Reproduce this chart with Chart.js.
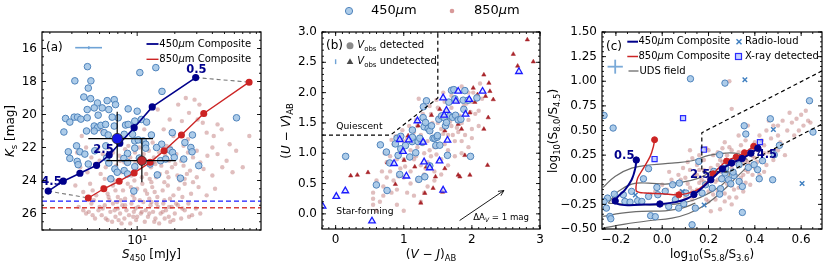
<!DOCTYPE html>
<html><head><meta charset="utf-8">
<script src="https://cdn.jsdelivr.net/npm/chart.js@4.4.1/dist/chart.umd.min.js"></script>
<style>
html,body{margin:0;padding:0;background:#fff;}
#wrap{position:relative;width:830px;height:262px;overflow:hidden;background:#fff;}
#wrap canvas{position:absolute;left:0;top:0;}
</style></head><body>
<div id="wrap">
<canvas id="ca" width="830" height="262"></canvas>
<canvas id="cb" width="830" height="262"></canvas>
<canvas id="cc" width="830" height="262"></canvas>
</div>
<script>
// ================= DATA =================
// Panel (a): S450 [mJy] vs Ks [mag]
const aBlue = [[4.0,17.1],[10.5,17.46],[14.1,17.16],[3.17,17.96],[4.26,17.96],[4.06,18.4],[15.8,18.6],[3.74,18.94],[4.24,19.04],[6.55,19.1],[5.75,19.16],[4.81,19.3],[6.71,19.4],[3.98,19.7],[4.53,19.6],[5.25,19.6],[5.93,19.7],[8.47,19.66],[10,19.8],[2.67,20.24],[3.13,20.16],[3.33,20.16],[3.54,20.28],[3.98,20.2],[4.87,20.04],[7.05,20.2],[6.31,20.16],[2.89,20.46],[4.53,20.7],[4.81,20.8],[5.12,20.66],[5.58,20.6],[6.55,20.7],[8.07,20.64],[8.47,20.6],[9.57,20.4],[10.8,20.3],[11.9,20.46],[2.59,21.06],[3.93,21.0],[4.53,21.0],[5.44,21.1],[5.86,21.24],[7.87,21.2],[9.18,21.2],[9.57,21.6],[10.2,21.54],[11.2,21.6],[13.0,21.24],[19.1,21.1],[27.7,21.24],[62.4,20.2],[11.7,21.8],[15.7,21.8],[3.27,21.9],[2.81,22.26],[3.48,22.26],[3.81,22.4],[4.58,22.2],[5.61,21.9],[8.37,22.36],[9.57,22.04],[11.7,22.04],[14.3,22.0],[18.3,22.16],[19.2,22.3],[24.1,21.7],[26.9,22.0],[27.5,22.26],[3.31,22.84],[3.37,23.04],[4.06,23.0],[2.89,22.66],[5.69,22.64],[5.93,22.94],[7.82,22.66],[8.37,22.9],[9.57,23.16],[10.4,22.64],[12.7,23.0],[15.4,22.8],[16.9,22.7],[19.8,22.6],[23.6,22.7],[31.1,23.1],[6.63,23.3],[6.92,23.5],[7.87,23.4],[8.37,23.6],[6.15,23.9],[14.5,23.66],[22.2,23.86],[9.4,24.64]];
const aPink = [[14.6,19.7],[21.3,19.4],[24.5,19.0],[28.8,19.1],[31.5,19.4],[26,19.9],[33.5,20.5],[44,20.6],[47.5,20.9],[30.5,20.3],[36,21.1],[41,21.3],[79,21.3],[18.2,20.3],[22.8,20.4],[16.3,20.9],[12.1,20.5],[11.4,20.9],[9.1,21.2],[7.6,21.4],[5.2,21.0],[4.4,20.9],[3.6,21.3],[25.5,21.5],[19.5,21.3],
[3.3,22.3],[3.9,22.0],[4.3,22.6],[4.8,22.1],[5.3,22.4],[5.9,22.0],[6.4,22.3],[7.2,22.5],[8.0,22.1],[8.8,22.6],[9.6,22.3],[10.4,22.0],[11.3,22.4],[12.4,22.2],[13.6,22.6],[15.0,22.3],[16.8,22.5],[18.5,22.0],[20.6,22.4],[22.5,22.8],[25.5,22.3],[28,22.6],[32,22.9],[36.5,22.5],[44,22.4],[52,22.8],[62,22.2],[70,23.2],
[3.5,23.2],[4.0,23.5],[4.6,23.0],[5.1,23.6],[5.6,23.2],[6.2,23.8],[6.8,23.1],[7.5,23.5],[8.3,23.0],[9.0,23.7],[9.9,23.3],[10.8,23.0],[11.8,23.6],[12.9,23.2],[14.2,23.8],[15.6,23.1],[17.3,23.5],[19.0,23.2],[21.0,23.7],[23.5,23.1],[26.5,23.4],[30,23.8],[34,23.3],[40,23.7],[48,23.2],[58,23.5],
[5.0,22.8],[7.9,22.9],[11.0,22.7],[14.0,23.0],[18.0,22.8],[24.0,23.9],[6.5,24.0],[9.5,24.0],[13.0,24.1],
[3.2,24.3],[3.7,24.7],[4.2,24.2],[4.7,24.9],[5.3,24.4],[5.8,24.8],[6.4,24.3],[7.0,25.0],[7.7,24.6],[8.4,24.2],[9.2,24.9],[10.0,24.5],[11.0,24.2],[12.0,24.8],[13.2,24.4],[14.5,25.0],[16.0,24.6],[17.6,24.3],[19.5,24.9],[21.5,24.5],[24,24.2],[27,24.8],[31,24.4],[36,24.9],[42,24.5],[4.5,25.2],[6.0,25.2],[8.0,25.1],[10.5,25.2],[13.8,24.7],[18.3,25.1],[23,25.0],
[3.4,25.6],[3.9,26.0],[4.3,25.4],[4.6,26.3],[4.9,25.8],[5.2,26.1],[5.5,25.5],[5.8,26.4],[6.1,25.9],[6.4,25.4],[6.7,26.2],[7.0,25.7],[7.3,26.0],[7.6,25.5],[7.9,26.3],[8.2,25.8],[8.6,26.1],[9.0,25.4],[9.4,25.9],[9.8,26.4],[10.2,25.6],[10.7,26.0],[11.2,25.3],[11.7,25.8],[12.2,26.2],[12.8,25.5],[13.4,25.9],[14.0,26.3],[14.7,25.6],[15.4,26.0],[16.2,25.4],[17.0,25.8],[17.9,26.2],[18.9,25.6],[20.0,26.0],[21.2,25.5],[22.5,26.3],[24.0,25.8],[25.7,25.4],[27.5,26.1],[29.5,25.7],[32,26.0],[5.0,25.6],[6.9,25.3],[8.8,26.6],[11.5,26.5],[15.0,26.6],[19.5,26.4],[7.5,26.6],[9.7,25.7],[13.0,25.3],[16.6,26.3],[4.1,25.9],[6.3,26.5],[10.0,26.2],
[4.4,24.6],[5.5,23.9],[6.7,24.6],[7.3,22.8],[8.9,24.4],[9.7,22.9],[10.9,23.8],[11.6,24.6],[12.6,23.9],[13.5,22.9],[15.2,23.6],[16.5,24.1],[17.8,23.8],[20.2,23.0],[22,24.0],[25,23.6],[28,24.1],[5.9,25.0],[7.4,25.2],[9.5,25.1],[12.5,25.1],[16.5,25.2],[3.7,25.8],[4.4,26.1],[5.3,25.7],[6.6,25.8],[8.0,25.5],[9.3,26.2],[10.9,25.9],[12.5,26.0],[14.3,25.4],[16.0,25.9],[18.0,25.6],[20.5,25.4],[23,25.7],[5.6,26.3],[7.1,26.4],[13.7,26.5],[18.4,26.5],[26,26.2],[8.5,21.9],[13.3,21.7],[17.2,21.9],[23.5,21.9],[30,22.2],[40,22.0],[55,21.8],[35,20.0]];
const aComp450 = [[1.94,24.64],[2.56,24.04],[3.48,23.56],[4.73,23.08],[5.97,22.46],[7.26,21.74],[9.46,20.8],[13.2,19.54],[29.4,17.76]];
const aComp850 = [[4.06,25.06],[5.41,24.5],[7.18,24.04],[9.46,23.54],[12.7,22.9],[16.4,22.2],[22.6,21.24],[34.1,19.94],[78.7,18.04]];
const aMean450 = [6.92, 21.46, 4.06, 13.4, 19.84, 23.1];   // x, y, xlo, xhi, ylo, yhi
const aMean850 = [10.9, 22.8, 5.67, 20.4, 21.46, 24.1];
const aLimits = [25.25, 25.65];                            // 450, 850 Ks limits
const aTypErr = [4.1, 15.95, 3.19, 5.23];
const aZText = ['0.5', '2.5', '4.5'];
const aZAt = [[29.8,17.28],[5.37,22.13],[2.06,24.09]];
const aXRange = [1.73, 98], aYRange = [15, 27];
const aYTicks = [16,18,20,22,24,26];
const aXTicks = [10];

// Panel (b): (V-J) vs (U-V)
const bBlueCirc = [[0.147,0.948],[0.657,1.138],[0.598,0.477],[0.755,0.385],[0.745,1.019],[0.794,0.84],[0.902,1.247],[0.877,1.154],[0.956,1.279],[0.956,1.073],[0.917,0.965],[1.025,1.127],[0.941,0.65],[1.088,0.938],[1.123,1.192],[1.127,1.263],[1.127,1.382],[1.176,1.008],[1.211,1.192],[1.221,0.569],[1.27,1.182],[1.284,1.588],[1.299,1.436],[1.319,1.507],[1.333,1.865],[1.358,1.409],[1.382,1.371],[1.407,1.453],[1.431,1.247],[1.456,1.247],[1.49,1.263],[1.471,1.127],[1.515,1.561],[1.554,1.615],[1.613,1.453],[1.593,1.588],[1.627,1.507],[1.662,1.843],[1.676,1.615],[1.716,1.593],[1.701,2.038],[1.735,2.049],[1.75,1.897],[1.76,1.626],[1.799,1.55],[1.838,1.561],[1.873,1.875],[1.882,1.724],[1.897,2.033],[1.946,1.875],[1.98,0.948],[2.074,1.913],[1.529,1.133],[1.382,0.791],[1.309,0.612],[1.289,1.767],[1.495,1.29],[1.642,0.965],[1.235,1.247]];
const bBlueTri = [[-0.191,0.125],[0.01,0.287],[0.142,0.379],[0.534,-0.119],[0.858,0.829],[1.039,0.623],[0.99,1.03],[0.941,1.225],[1.201,1.534],[1.284,1.182],[1.299,0.856],[1.382,0.759],[1.525,0.873],[1.578,1.913],[1.578,0.39],[1.627,1.707],[1.765,1.859],[1.799,2.022],[1.907,1.642],[1.961,1.886],[2.157,2.022],[2.691,2.347],[1.074,1.22],[1.642,1.214],[1.593,1.626]];
const bRedTri = [[2.814,2.873],[2.608,2.634],[2.672,2.439],[2.902,2.51],[2.176,2.293],[2.25,2.157],[2.265,2.022],[2.201,1.94],[2.314,1.886],[2.24,1.588],[2.176,1.398],[2.02,2.076],[2.083,1.967],[2.044,1.843],[1.971,1.669],[1.848,1.398],[1.799,1.48],[1.603,1.371],[1.529,1.724],[1.407,1.626],[1.211,1.453],[1.064,1.29],[1.005,0.883],[1.162,0.775],[1.333,0.775],[1.466,0.612],[1.799,0.64],[1.824,0.612],[1.971,0.64],[2.23,0.802],[1.431,0.423],[1.309,0.341],[1.25,0.179],[0.877,0.488],[0.475,0.683],[0.319,0.64],[0.221,0.629],[0.76,0.846],[1.603,0.748],[1.897,0.965],[1.57,0.36]];
const bPink = [[0.55,0.15],[0.6,0.05],[0.55,0.25],[0.7,0.45],[0.75,0.6],[0.8,0.7],[0.85,0.55],[0.9,0.4],[0.95,0.75],[1.0,0.9],[1.0,0.6],[1.05,0.35],[1.1,0.7],[1.1,1.05],[1.15,0.9],[1.2,0.55],[1.2,1.1],[1.25,0.8],[1.25,1.3],[1.3,1.0],[1.3,0.65],[1.35,1.2],[1.35,0.45],[1.4,0.95],[1.4,1.35],[1.45,1.1],[1.45,0.7],[1.5,1.25],[1.5,1.5],[1.55,0.9],[1.55,1.4],[1.6,1.15],[1.6,1.6],[1.65,1.3],[1.65,0.8],[1.7,1.45],[1.7,1.75],[1.75,1.2],[1.75,1.6],[1.8,1.35],[1.8,1.85],[1.85,1.5],[1.85,1.0],[1.9,1.7],[1.9,1.3],[1.95,1.55],[2.0,1.85],[2.0,1.25],[2.05,1.65],[2.1,1.45],[2.15,1.9],[1.0,1.2],[0.95,1.0],[0.9,0.9],[0.85,1.15],[0.8,0.95],[0.75,0.85],[0.7,0.3],[0.65,0.2],[0.6,0.55],[1.05,1.25],[1.15,1.35],[1.2,1.45],[1.3,1.55],[1.4,1.65],[1.5,1.75],[1.6,1.85],[1.7,1.95],[1.75,2.05],[1.85,2.1],[1.95,2.0],[1.1,0.5],[1.15,0.3],[1.25,0.2],[1.35,0.85],[1.45,0.55],[1.55,0.65],[1.65,1.05],[1.75,0.95],[1.85,1.2],[1.95,1.1],[2.0,1.4],[2.1,1.7],[0.9,0.15],[1.0,0.05],[1.3,0.35],[0.55,0.35],[0.72,1.0],[0.82,1.22],[0.88,1.28],[0.98,1.38],[1.08,1.45],[1.18,1.55],[1.28,1.65],[1.38,1.78],[1.48,1.88],[1.42,1.5],[1.52,1.58],[1.62,1.7],[1.72,1.3],[1.82,1.62],[1.92,1.82],[2.02,2.0],[2.12,2.15],[1.58,2.0],[1.22,1.9],[1.12,1.18],[1.02,0.78],[0.92,0.62],[0.82,0.35],[0.68,0.7],[1.32,0.75],[1.48,0.98],[1.68,1.52],[1.78,1.42],[1.88,1.78],[1.98,1.68],[2.08,1.95],[1.38,1.05],[1.18,0.95],[1.28,1.15],[1.58,1.32],[1.62,1.48],[1.72,1.62]];
const bQuiescentBox = [[-0.2,1.3],[0.806,1.3],[1.5,1.91],[1.5,3.0]];
const bArrow = [[1.82,-0.11],[2.47,0.385]];
const bTypErr = [0.0, 2.51, 0.04];
const bXRange = [-0.2, 3], bYRange = [-0.25, 3.0];
const bXTicks = [0,1,2,3];
const bYTicks = [0,0.5,1,1.5,2,2.5,3];

// Panel (c): log(S5.8/S3.6) vs log(S8.0/S4.5)
const cBlue = [[0.122,1.025],[0.271,0.981],[-0.251,0.653],[-0.212,0.525],[0.467,0.619],[0.354,0.548],[0.636,0.802],[0.651,0.484],[0.506,0.349],[0.361,0.464],[0.158,0.186],[0.248,0.254],[0.274,0.118],[0.332,0.152],[-0.059,0.112],[-0.081,0.01],[-0.023,-0.078],[0.045,-0.051],[0.074,-0.034],[0.103,-0.135],[0.057,-0.203],[0.028,-0.271],[-0.132,-0.118],[-0.106,-0.213],[-0.088,-0.22],[-0.168,-0.152],[-0.207,-0.146],[-0.236,-0.186],[-0.251,-0.22],[-0.226,-0.372],[-0.222,-0.396],[-0.241,-0.288],[-0.161,-0.22],[-0.139,-0.227],[-0.059,-0.169],[-0.019,-0.152],[0.013,-0.118],[0.071,-0.288],[0.093,-0.244],[0.129,-0.457],[0.187,-0.051],[0.216,-0.085],[0.252,-0.091],[0.248,-0.146],[0.286,0.0],[0.296,-0.041],[0.31,0.041],[0.332,-0.017],[0.346,-0.068],[0.306,0.078],[0.346,-0.332],[0.372,0.125],[0.397,0.152],[0.412,0.102],[0.419,0.01],[0.477,0.0],[0.484,0.254],[0.433,0.193],[0.223,0.085],[0.257,0.01],[0.271,0.068],[0.172,-0.135],[0.143,-0.288],[-0.05,-0.365],[-0.03,-0.375]];
const cPink = [[0.05,-0.05],[0.08,-0.12],[0.1,0.02],[0.12,-0.08],[0.13,-0.2],[0.15,0.05],[0.16,-0.03],[0.17,-0.15],[0.18,0.1],[0.19,-0.06],[0.2,0.02],[0.2,-0.22],[0.21,0.12],[0.22,-0.1],[0.23,0.06],[0.23,-0.02],[0.24,0.15],[0.25,-0.08],[0.25,0.2],[0.26,0.03],[0.27,-0.14],[0.27,0.1],[0.28,0.25],[0.29,0.0],[0.29,0.17],[0.3,-0.06],[0.3,0.3],[0.31,0.08],[0.32,0.22],[0.32,-0.18],[0.33,0.14],[0.34,0.35],[0.34,0.02],[0.35,0.25],[0.36,0.1],[0.36,0.4],[0.37,0.18],[0.38,0.3],[0.38,-0.05],[0.39,0.24],[0.4,0.38],[0.4,0.12],[0.41,0.3],[0.42,0.45],[0.43,0.2],[0.44,0.35],[0.45,0.5],[0.46,0.28],[0.47,0.42],[0.48,0.55],[0.5,0.45],[0.52,0.6],[0.54,0.5],[0.56,0.58],[0.58,0.62],[0.6,0.66],[0.62,0.7],[0.63,0.6],[0.55,0.68],[0.5,0.3],[0.45,0.15],[0.42,0.05],[0.35,-0.12],[0.3,-0.25],[0.25,-0.3],[0.22,0.25],[0.2,0.3],[0.18,0.2],[0.15,0.15],[0.12,0.1],[0.1,-0.18],[0.07,0.05],[0.05,-0.22],[0.02,-0.1],[0.0,-0.05],[-0.03,-0.12],[-0.05,-0.15],[0.03,0.08],[0.14,-0.28],[0.21,-0.32],[0.26,0.32],[0.33,0.45],[0.37,0.55],[0.29,1.0],[0.3,0.72],[0.27,0.38],[0.24,0.28],[0.19,0.32],[0.16,0.25],[0.13,0.22],[0.11,0.18],[0.09,0.12],[0.31,-0.1],[0.34,-0.02],[0.39,0.05],[0.44,0.08],[0.48,0.2],[0.51,0.38],[0.53,0.25],[0.57,0.45],[0.36,0.2],[0.38,0.15],[0.4,0.22],[0.42,0.32],[0.43,0.4],[0.26,0.12],[0.28,0.08],[0.24,-0.12],[0.22,-0.15],[0.19,-0.2],[0.17,0.0],[0.14,0.05],[0.12,0.3],[0.06,-0.15],[0.04,0.0],[0.29,-0.18],[0.33,-0.08],[0.35,0.05],[0.46,0.6],[0.5,0.55],[0.59,0.5],[0.61,0.55],[0.64,0.58],
[0.15,-0.1],[0.18,-0.02],[0.21,0.05],[0.24,0.0],[0.26,0.18],[0.28,-0.04],[0.3,0.12],[0.32,0.04],[0.33,0.28],[0.35,0.16],[0.37,0.08],[0.39,0.33],[0.41,0.18],[0.44,0.27],[0.23,-0.2],[0.27,-0.22],[0.2,-0.12],[0.16,0.1],[0.11,-0.04],[0.08,0.0],[0.13,-0.12],[0.36,-0.03],[0.31,0.18],[0.29,0.33],[0.25,0.08]];
const cXray = [[0.09,0.626],[0.18,0.305],[-0.033,0.21],[0.422,0.382]];
const cRadio = [[0.357,1.015],[0.48,0.51],[0.604,-0.037],[0.087,-0.12],[0.181,-0.256],[-0.116,-0.155]];
const cPath450 = [[-0.112,0.2],[-0.116,0.118],[-0.132,0.0],[-0.161,-0.102],[-0.19,-0.169],[-0.203,-0.215],[-0.19,-0.247],[-0.146,-0.258],[-0.074,-0.252],[-0.01,-0.246],[0.057,-0.227],[0.107,-0.193],[0.137,-0.15],[0.175,-0.075],[0.21,0.0],[0.26,0.11],[0.3,0.17],[0.345,0.215],[0.383,0.27],[0.413,0.32]];
const cDots450 = [[-0.112,0.2],[-0.203,-0.215],[-0.01,-0.246],[0.137,-0.15],[0.21,0.0],[0.26,0.11],[0.3,0.17],[0.345,0.215],[0.383,0.27],[0.413,0.32]];
const cPath850 = [[-0.033,0.406],[-0.038,0.338],[-0.052,0.237],[-0.081,0.118],[-0.106,0.017],[-0.113,-0.068],[-0.11,-0.118],[-0.074,-0.135],[-0.001,-0.142],[0.072,-0.153],[0.122,-0.129],[0.158,-0.095],[0.2,-0.01],[0.22,0.06],[0.278,0.19],[0.319,0.23],[0.355,0.275],[0.395,0.34]];
const cDots850 = [[-0.033,0.406],[0.072,-0.153],[0.22,0.06],[0.278,0.19],[0.319,0.23],[0.355,0.275],[0.395,0.34]];
const cWedge = [[0.69,1.105],[0.171,0.477],[0.171,0.08],[0.29,0.08],[0.69,0.565]];
const cUDS1 = [[-0.255,-0.078],[-0.204,0.034],[-0.132,0.118],[-0.045,0.152],[0.042,0.169],[0.129,0.193],[0.201,0.247],[0.274,0.271],[0.332,0.261],[0.368,0.203]];
const cUDS2 = [[-0.233,-0.237],[-0.19,-0.118],[-0.132,-0.044],[-0.059,-0.034],[0.013,-0.044],[0.086,-0.024],[0.158,0.017],[0.216,0.085],[0.259,0.118],[0.29,0.06],[0.259,-0.05],[0.158,-0.186],[0.086,-0.237],[0.013,-0.254],[-0.074,-0.254],[-0.161,-0.247],[-0.233,-0.237]];
const cUDS3 = [[-0.255,-0.491],[-0.161,-0.45],[-0.059,-0.416],[0.042,-0.389],[0.114,-0.342],[0.187,-0.254],[0.259,-0.118],[0.317,0.017],[0.361,0.118]];
const cUDS4 = [[-0.255,-0.372],[-0.175,-0.338],[-0.088,-0.321],[0.013,-0.315],[0.086,-0.288],[0.143,-0.237]];
const cZText = ['0.5','2.5','4.5'];
const cZAt = [[-0.164,0.243],[0.164,0.052],[0.452,0.254]];
const cTypErr = [-0.203, 1.148, 0.033, 0.071];
const cXRange = [-0.26, 0.69], cYRange = [-0.5, 1.5];
const cXTicks = [-0.2,0,0.2,0.4,0.6];
const cYTicks = [-0.5,-0.25,0,0.25,0.5,0.75,1,1.25,1.5];

// ================= STYLE / HELPERS =================
const FONT = "'DejaVu Sans', sans-serif";
Chart.defaults.font.family = FONT;
Chart.defaults.color = '#000';
const BLUE_FILL = 'rgba(164,198,231,0.9)', BLUE_EDGE = '#4f83bb';
const PINK = 'rgba(190,120,120,0.48)';
const NAVY = '#00008b', RED = '#cc2424';
const P = arr => arr.map(([x, y]) => ({x, y}));
const minus = s => s.replace('-', '\u2212');

function rich(ctx, segs, x, y, o = {}) {
  const size = o.size || 12;
  const parts = segs.map(([t, st]) => {
    const sub = st.includes('s'), sup = st.includes('p');
    const fs = (sub || sup) ? size * 0.7 : size;
    const font = (st.includes('b') ? 'bold ' : '') + (st.includes('i') ? 'italic ' : '') + fs + 'px ' + FONT;
    ctx.font = font;
    return {t, font, w: ctx.measureText(t).width, dy: sub ? size * 0.3 : (sup ? -size * 0.35 : 0)};
  });
  const total = parts.reduce((a, p) => a + p.w, 0);
  ctx.save();
  ctx.translate(x, y);
  if (o.rotate) ctx.rotate(o.rotate);
  let cx = o.align === 'left' ? 0 : (o.align === 'right' ? -total : -total / 2);
  ctx.fillStyle = o.color || '#000';
  ctx.textBaseline = 'middle';
  ctx.textAlign = 'left';
  for (const p of parts) { ctx.font = p.font; ctx.fillText(p.t, cx, p.dy); cx += p.w; }
  ctx.restore();
}
function seg(ctx, x1, y1, x2, y2) { ctx.beginPath(); ctx.moveTo(x1, y1); ctx.lineTo(x2, y2); ctx.stroke(); }

function range(a, b, step) { const r = []; for (let v = a; v <= b + 1e-9; v += step) r.push(+v.toFixed(4)); return r; }

function framePlugin(xMaj, xMin, yMaj, yMin) {
  return {
    id: 'frame',
    afterDraw(chart) {
      const {ctx, chartArea: a, scales: {x, y}} = chart;
      ctx.save();
      ctx.strokeStyle = '#000';
      ctx.lineWidth = 0.9;
      const tx = (vals, len) => vals.forEach(v => {
        const p = x.getPixelForValue(v);
        if (p < a.left - 0.5 || p > a.right + 0.5) return;
        seg(ctx, p, a.bottom, p, a.bottom - len); seg(ctx, p, a.top, p, a.top + len);
      });
      const ty = (vals, len) => vals.forEach(v => {
        const p = y.getPixelForValue(v);
        if (p < a.top - 0.5 || p > a.bottom + 0.5) return;
        seg(ctx, a.left, p, a.left + len, p); seg(ctx, a.right, p, a.right - len, p);
      });
      tx(xMaj, 4); tx(xMin, 2); ty(yMaj, 4); ty(yMin, 2);
      ctx.lineWidth = 1.2;
      ctx.strokeRect(a.left, a.top, a.right - a.left, a.bottom - a.top);
      ctx.restore();
    }
  };
}

function axis(rng, ticks, fmt, extra, isX, fitSize) {
  return Object.assign({
    type: 'linear', min: rng[0], max: rng[1], bounds: 'data',
    grid: {display: false, drawTicks: false}, border: {display: false},
    ticks: {color: '#000', font: {family: FONT, size: 12}, padding: isX ? 4 : 5, autoSkip: false, maxRotation: 0, minRotation: 0, callback: v => fmt(v)},
    afterBuildTicks: s => { s.ticks = ticks.map(v => ({value: v})); },
    afterFit: s => {
      if (isX) s.height = fitSize; else s.width = fitSize;
      s.paddingLeft = 0; s.paddingRight = 0; s.paddingTop = 0; s.paddingBottom = 0;
    }
  }, extra || {});
}

function makeChart(id, pad, xAx, yAx, datasets, plugins) {
  return new Chart(document.getElementById(id), {
    type: 'scatter',
    data: {datasets},
    options: {
      responsive: false, animation: false, events: [],
      layout: {padding: pad},
      plugins: {legend: {display: false}, tooltip: {enabled: false}},
      scales: {x: xAx, y: yAx}
    },
    plugins
  });
}

const blueScatter = (data, order, r) => ({data: P(data), pointRadius: r || 3.3, pointBackgroundColor: BLUE_FILL, pointBorderColor: BLUE_EDGE, pointBorderWidth: 1, order});
const pinkScatter = (data, order) => ({data: P(data), pointRadius: 2.2, pointBackgroundColor: PINK, pointBorderWidth: 0, pointBorderColor: 'rgba(0,0,0,0)', order});
const lineDS = (data, color, width, dash, order, extra) => Object.assign({data: P(data), showLine: true, borderColor: color, borderWidth: width, borderDash: dash || [], pointRadius: 0, order}, extra || {});

// ================= PANEL A =================
const aLogMinor = [2,3,4,5,6,7,8,9,20,30,40,50,60,70,80,90];
makeChart('ca', {left: 0, right: 569, top: 32, bottom: 0},
  axis(aXRange, aXTicks, v => '10\u00b9', {type: 'logarithmic'}, true, 32),
  axis(aYRange, aYTicks, v => String(v), {reverse: true}, false, 42),
  [
    pinkScatter(aPink, 20),
    blueScatter(aBlue, 19),
    lineDS([[aXRange[0], aLimits[0]], [aXRange[1], aLimits[0]]], '#1a1aff', 1.3, [5, 3], 18),
    lineDS([[aXRange[0], aLimits[1]], [aXRange[1], aLimits[1]]], '#d9403a', 1.3, [5, 3], 18),
    lineDS([aComp450[aComp450.length - 1], aComp850[aComp850.length - 1]], '#777', 1.1, [4, 3], 17),
    lineDS([aComp450[0], aComp850[0]], '#777', 1.1, [4, 3], 17),
    lineDS(aComp850, RED, 1.4, [], 16, {pointRadius: 2.8, pointBackgroundColor: RED, pointBorderColor: RED}),
    lineDS(aComp450, NAVY, 1.6, [], 15, {pointRadius: 2.8, pointBackgroundColor: NAVY, pointBorderColor: NAVY}),
  ],
  [framePlugin(aXTicks, aLogMinor, aYTicks, range(15, 27, 0.5)), {
    id: 'annA',
    afterDatasetsDraw(chart) {
      const {ctx, scales: {x, y}} = chart;
      ctx.save();
      const mean = (m, col, r) => {
        const [cx, cy, xlo, xhi, ylo, yhi] = m;
        ctx.strokeStyle = '#000'; ctx.lineWidth = 1.2;
        seg(ctx, x.getPixelForValue(xlo), y.getPixelForValue(cy), x.getPixelForValue(xhi), y.getPixelForValue(cy));
        seg(ctx, x.getPixelForValue(cx), y.getPixelForValue(ylo), x.getPixelForValue(cx), y.getPixelForValue(yhi));
        ctx.beginPath(); ctx.arc(x.getPixelForValue(cx), y.getPixelForValue(cy), r, 0, Math.PI * 2);
        ctx.fillStyle = col; ctx.fill(); ctx.lineWidth = 0.8; ctx.strokeStyle = '#222'; ctx.stroke();
      };
      mean(aMean850, '#c0282d', 4.6);
      mean(aMean450, '#1414e6', 5.2);
      // typical error
      ctx.strokeStyle = '#6fa3d6'; ctx.lineWidth = 1.6;
      const ty = y.getPixelForValue(aTypErr[1]);
      seg(ctx, x.getPixelForValue(aTypErr[2]), ty, x.getPixelForValue(aTypErr[3]), ty);
      seg(ctx, x.getPixelForValue(aTypErr[0]), ty - 1.5, x.getPixelForValue(aTypErr[0]), ty + 1.5);
      // redshift labels
      aZText.forEach((t, i) => rich(ctx, [[t, 'b']], x.getPixelForValue(aZAt[i][0]), y.getPixelForValue(aZAt[i][1]), {size: 11.5, color: NAVY}));
      // panel tag + legend
      rich(ctx, [['(a)', '']], 46, 47.5, {size: 12, align: 'left'});
      ctx.lineWidth = 1.8;
      ctx.strokeStyle = NAVY; seg(ctx, 146.5, 44, 158.5, 44);
      ctx.strokeStyle = RED; ctx.lineWidth = 1.4; seg(ctx, 146.5, 59.3, 158.5, 59.3);
      rich(ctx, [['450', ''], ['\u03bc', 'i'], ['m Composite', '']], 159.3, 44, {size: 10, align: 'left'});
      rich(ctx, [['850', ''], ['\u03bc', 'i'], ['m Composite', '']], 159.3, 59.3, {size: 10, align: 'left'});
      ctx.restore();
    },
    afterDraw(chart) {
      const {ctx} = chart;
      rich(ctx, [['K', 'i'], ['s', 's'], [' [mag]', '']], 11, 131, {size: 12, rotate: -Math.PI / 2});
      rich(ctx, [['S', 'i'], ['450', 's'], [' [mJy]', '']], 151.5, 255, {size: 12});
    }
  }]
);

// ================= PANEL B =================
makeChart('cb', {left: 270, right: 290, top: 32, bottom: 0},
  axis(bXRange, bXTicks, v => String(v), {}, true, 33),
  axis(bYRange, bYTicks, v => v.toFixed(1), {}, false, 52),
  [
    pinkScatter(bPink, 20),
    {data: P(bRedTri), pointStyle: 'triangle', pointRadius: 2.5, pointBackgroundColor: '#a8242a', pointBorderColor: '#a8242a', pointBorderWidth: 0.5, order: 19},
    blueScatter(bBlueCirc, 18),
    {data: P(bBlueTri), pointStyle: 'triangle', pointRadius: 3.8, pointBackgroundColor: 'rgba(215,225,255,0.7)', pointBorderColor: '#1b1bff', pointBorderWidth: 1.3, order: 17},
    lineDS(bQuiescentBox, '#000', 1.2, [4, 3], 16),
  ],
  [framePlugin(bXTicks, range(-0.2, 3, 0.1), bYTicks, range(-0.2, 3, 0.1)), {
    id: 'annB',
    afterDatasetsDraw(chart) {
      const {ctx, scales: {x, y}} = chart;
      ctx.save();
      // reddening arrow
      const x1 = x.getPixelForValue(bArrow[0][0]), y1 = y.getPixelForValue(bArrow[0][1]);
      const x2 = x.getPixelForValue(bArrow[1][0]), y2 = y.getPixelForValue(bArrow[1][1]);
      ctx.strokeStyle = '#000'; ctx.lineWidth = 0.9; seg(ctx, x1, y1, x2, y2);
      const ang = Math.atan2(y2 - y1, x2 - x1);
      seg(ctx, x2, y2, x2 - 6 * Math.cos(ang - 0.45), y2 - 6 * Math.sin(ang - 0.45));
      seg(ctx, x2, y2, x2 - 6 * Math.cos(ang + 0.45), y2 - 6 * Math.sin(ang + 0.45));
      rich(ctx, [['\u0394A', ''], ['V', 'si'], [' = 1 mag', '']], x.getPixelForValue(2.02), y.getPixelForValue(-0.066), {size: 8.6, align: 'left'});
      rich(ctx, [['Quiescent', '']], x.getPixelForValue(0.01), y.getPixelForValue(1.445), {size: 9.2, align: 'left'});
      rich(ctx, [['Star-forming', '']], x.getPixelForValue(0.01), y.getPixelForValue(0.045), {size: 9.2, align: 'left'});
      // typical error tick
      ctx.strokeStyle = '#6fa3d6'; ctx.lineWidth = 1.4;
      seg(ctx, x.getPixelForValue(bTypErr[0]), y.getPixelForValue(bTypErr[1] - bTypErr[2]), x.getPixelForValue(bTypErr[0]), y.getPixelForValue(bTypErr[1] + bTypErr[2]));
      // legend
      rich(ctx, [['(b)', '']], 326, 45.7, {size: 12, align: 'left'});
      ctx.fillStyle = '#8a8a8a'; ctx.beginPath(); ctx.arc(350, 45.7, 3.5, 0, Math.PI * 2); ctx.fill();
      ctx.fillStyle = '#4a4a4a'; ctx.beginPath(); ctx.moveTo(350, 58.3); ctx.lineTo(353.3, 64); ctx.lineTo(346.7, 64); ctx.closePath(); ctx.fill();
      rich(ctx, [['V', 'i'], ['obs', 's'], [' detected', '']], 357.3, 45.7, {size: 10, align: 'left'});
      rich(ctx, [['V', 'i'], ['obs', 's'], [' undetected', '']], 357.3, 61.7, {size: 10, align: 'left'});
      // top figure legend
      ctx.fillStyle = BLUE_FILL; ctx.strokeStyle = BLUE_EDGE; ctx.lineWidth = 1;
      ctx.beginPath(); ctx.arc(349, 11, 3.6, 0, Math.PI * 2); ctx.fill(); ctx.stroke();
      ctx.fillStyle = 'rgba(200,110,110,0.7)';
      ctx.beginPath(); ctx.arc(452, 11, 2.3, 0, Math.PI * 2); ctx.fill();
      rich(ctx, [['450', ''], ['\u03bc', 'i'], ['m', '']], 371, 11, {size: 13, align: 'left'});
      rich(ctx, [['850', ''], ['\u03bc', 'i'], ['m', '']], 474, 11, {size: 13, align: 'left'});
      ctx.restore();
    },
    afterDraw(chart) {
      const {ctx} = chart;
      rich(ctx, [['(', ''], ['U', 'i'], [' \u2212 ', ''], ['V', 'i'], [')', ''], ['AB', 's']], 287, 131, {size: 12, rotate: -Math.PI / 2});
      rich(ctx, [['(', ''], ['V', 'i'], [' \u2212 ', ''], ['J', 'i'], [')', ''], ['AB', 's']], 431, 255, {size: 12});
    }
  }]
);

// ================= PANEL C =================
makeChart('cc', {left: 550, right: 8, top: 32, bottom: 0},
  axis(cXRange, cXTicks, v => minus(v.toFixed(1)), {}, true, 33),
  axis(cYRange, cYTicks, v => minus(v.toFixed(2)), {}, false, 52),
  [
    pinkScatter(cPink, 30),
    lineDS(cUDS1, '#6b6b6b', 1.2, [], 29, {tension: 0.4}),
    lineDS(cUDS2, '#6b6b6b', 1.2, [], 29, {tension: 0.4}),
    lineDS(cUDS3, '#6b6b6b', 1.2, [], 29, {tension: 0.4}),
    lineDS(cUDS4, '#6b6b6b', 1.2, [], 29, {tension: 0.4}),
    blueScatter(cBlue, 28, 3.2),
    {data: P(cRadio), pointStyle: 'crossRot', pointRadius: 3.2, pointBorderColor: '#3f7fc0', pointBorderWidth: 1.4, order: 27},
    {data: P(cXray), pointStyle: 'rect', pointRadius: 3.6, pointBackgroundColor: 'rgba(160,180,255,0.6)', pointBorderColor: '#2a2aff', pointBorderWidth: 1.2, order: 26},
    lineDS(cWedge, '#000', 1.2, [4, 3], 25),
    lineDS(cPath850, RED, 1.4, [], 24, {tension: 0.35}),
    {data: P(cDots850), pointRadius: 3, pointBackgroundColor: RED, pointBorderColor: RED, order: 23},
    lineDS(cPath450, NAVY, 2, [], 22, {tension: 0.35}),
    {data: P(cDots450), pointRadius: 3.2, pointBackgroundColor: NAVY, pointBorderColor: NAVY, order: 21},
  ],
  [framePlugin(cXTicks, range(-0.25, 0.7, 0.05), cYTicks, range(-0.5, 1.5, 0.05)), {
    id: 'annC',
    afterDatasetsDraw(chart) {
      const {ctx, scales: {x, y}} = chart;
      ctx.save();
      cZText.forEach((t, i) => rich(ctx, [[t, 'b']], x.getPixelForValue(cZAt[i][0]), y.getPixelForValue(cZAt[i][1]), {size: 11.5, color: NAVY}));
      // typical error cross
      ctx.strokeStyle = '#7aaad8'; ctx.lineWidth = 1.8;
      const [ex, ey, dx, dy] = cTypErr;
      seg(ctx, x.getPixelForValue(ex - dx), y.getPixelForValue(ey), x.getPixelForValue(ex + dx), y.getPixelForValue(ey));
      seg(ctx, x.getPixelForValue(ex), y.getPixelForValue(ey - dy), x.getPixelForValue(ex), y.getPixelForValue(ey + dy));
      // legend
      rich(ctx, [['(c)', '']], 606, 47, {size: 12, align: 'left'});
      ctx.strokeStyle = NAVY; ctx.lineWidth = 2; seg(ctx, 627.3, 41.7, 638, 41.7);
      ctx.strokeStyle = RED; ctx.lineWidth = 1.5; seg(ctx, 627.3, 56.5, 638, 56.5);
      ctx.strokeStyle = '#6b6b6b'; ctx.lineWidth = 1.3; seg(ctx, 628.5, 71, 638.5, 71);
      rich(ctx, [['450', ''], ['\u03bc', 'i'], ['m Composite', '']], 638.5, 41.7, {size: 10, align: 'left'});
      rich(ctx, [['850', ''], ['\u03bc', 'i'], ['m Composite', '']], 638.5, 56.5, {size: 10, align: 'left'});
      rich(ctx, [['UDS field', '']], 639.5, 71, {size: 10, align: 'left'});
      ctx.strokeStyle = '#3f7fc0'; ctx.lineWidth = 1.4;
      seg(ctx, 736.5, 39.2, 741.5, 44.2); seg(ctx, 736.5, 44.2, 741.5, 39.2);
      ctx.fillStyle = 'rgba(160,180,255,0.6)'; ctx.strokeStyle = '#2a2aff'; ctx.lineWidth = 1.2;
      ctx.fillRect(735.5, 53.5, 6, 6); ctx.strokeRect(735.5, 53.5, 6, 6);
      rich(ctx, [['Radio-loud', '']], 745, 41.7, {size: 10, align: 'left'});
      rich(ctx, [['X-ray detected', '']], 745, 56.5, {size: 10, align: 'left'});
      ctx.restore();
    },
    afterDraw(chart) {
      const {ctx} = chart;
      rich(ctx, [['log', ''], ['10', 's'], ['(S', ''], ['8.0', 's'], ['/S', ''], ['4.5', 's'], [')', '']], 554, 131, {size: 12, rotate: -Math.PI / 2});
      rich(ctx, [['log', ''], ['10', 's'], ['(S', ''], ['5.8', 's'], ['/S', ''], ['3.6', 's'], [')', '']], 712, 255, {size: 12});
    }
  }]
);
</script>
</body></html>
